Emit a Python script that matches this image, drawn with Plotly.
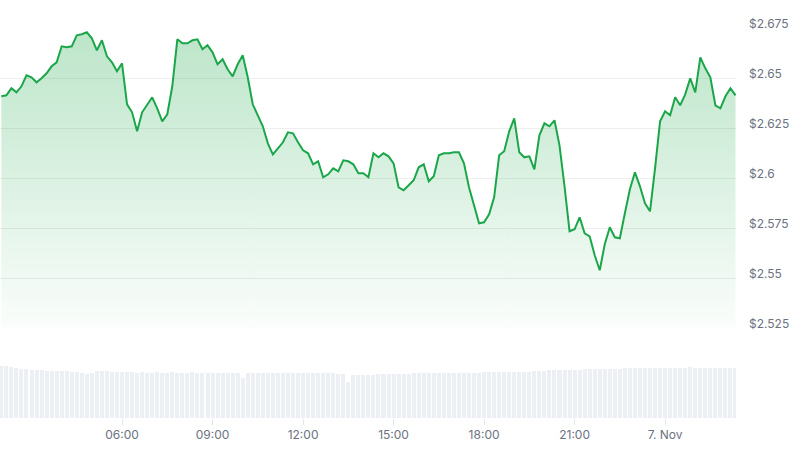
import pandas as pd
import plotly.graph_objects as go

start_time = "2024-11-06 02:00"
step = "10min"

prices = [
    2.641, 2.6415, 2.645, 2.643, 2.646, 2.6515, 2.6505, 2.648, 2.650, 2.6525,
    2.656, 2.658, 2.666, 2.6655, 2.666, 2.6715, 2.672, 2.673, 2.670, 2.664,
    2.669, 2.661, 2.658, 2.6535, 2.6575, 2.637, 2.633, 2.6235, 2.633, 2.6365,
    2.6405, 2.635, 2.6285, 2.632, 2.646, 2.6695, 2.6675, 2.6675, 2.669, 2.6695,
    2.6645, 2.6665, 2.663, 2.657, 2.6595, 2.6545, 2.651, 2.657, 2.6615, 2.6505,
    2.637, 2.6315, 2.626, 2.6175, 2.612, 2.615, 2.618, 2.623, 2.6225, 2.618,
    2.614, 2.6125, 2.607, 2.6085, 2.6005, 2.602, 2.605, 2.6035, 2.609, 2.6085,
    2.607, 2.6025, 2.6025, 2.6005, 2.6125, 2.6105, 2.6125, 2.611, 2.6075, 2.5955,
    2.594, 2.5965, 2.599, 2.6055, 2.607, 2.5985, 2.601, 2.6115, 2.6125, 2.6125,
    2.613, 2.613, 2.6075, 2.5955, 2.586, 2.5775, 2.578, 2.582, 2.5905, 2.6115,
    2.6135, 2.6235, 2.630, 2.613, 2.6105, 2.611, 2.6045, 2.6215, 2.6275, 2.626,
    2.629, 2.6165, 2.596, 2.5735, 2.5745, 2.5805, 2.5725, 2.571, 2.5615, 2.554,
    2.567, 2.5755, 2.5705, 2.570, 2.5825, 2.5945, 2.603, 2.596, 2.5875, 2.5835,
    2.605, 2.6285, 2.6335, 2.6315, 2.6405, 2.6365, 2.642, 2.650, 2.643, 2.6605,
    2.655, 2.6505, 2.6365, 2.635, 2.641, 2.645, 2.6415,
]

volumes = [
    52, 52, 51, 50, 49, 49, 48, 48, 48, 47,
    47, 47, 47, 47, 46, 46, 45, 44, 45, 47,
    47, 47, 46, 46, 46, 46, 46, 45, 46, 45,
    45, 46, 45, 45, 46, 45, 45, 45, 46, 45,
    45, 45, 45, 45, 45, 45, 45, 45, 40, 45,
    45, 45, 45, 45, 45, 45, 45, 45, 45, 45,
    45, 45, 45, 45, 45, 45, 45, 44, 44, 36,
    43, 43, 43, 43, 43, 44, 44, 44, 44, 44,
    44, 44, 45, 45, 45, 45, 45, 45, 45, 45,
    45, 45, 45, 45, 45, 45, 46, 46, 46, 46,
    46, 46, 46, 46, 46, 46, 47, 47, 47, 48,
    48, 48, 48, 48, 48, 48, 49, 49, 49, 49,
    49, 49, 49, 49, 50, 50, 50, 50, 50, 50,
    50, 50, 50, 50, 50, 50, 50, 51, 50, 50,
    50, 50, 50, 50, 50, 50, 50,
]

price_ticks = [2.525, 2.55, 2.575, 2.6, 2.625, 2.65, 2.675]
price_tick_labels = ["$2.525", "$2.55", "$2.575", "$2.6", "$2.625", "$2.65", "$2.675"]

time_ticks = ["2024-11-06 06:00", "2024-11-06 09:00", "2024-11-06 12:00",
              "2024-11-06 15:00", "2024-11-06 18:00", "2024-11-06 21:00",
              "2024-11-07 00:00"]
time_tick_labels = ["06:00", "09:00", "12:00", "15:00", "18:00", "21:00", "7. Nov"]

x_range = ["2024-11-06 01:57:20", "2024-11-07 02:21:00"]

times = pd.date_range(start_time, periods=len(prices), freq=step)

LINE = "#1ba64a"
FONT = "Inter, Roboto, sans-serif"
LABEL = "#6b7280"

fig = go.Figure()

fig.add_trace(go.Bar(
    x=times, y=volumes, yaxis="y2", xaxis="x",
    marker=dict(color="#eceff3", line=dict(width=0)),
    width=8 * 60 * 1000,
    hoverinfo="skip", showlegend=False,
))

fig.add_trace(go.Scatter(
    x=times, y=prices, mode="lines", yaxis="y", xaxis="x",
    line=dict(color=LINE, width=2),
    fill="tozeroy",
    fillgradient=dict(
        type="vertical",
        start=2.525, stop=2.675,
        colorscale=[[0, "rgba(30,168,74,0.02)"], [1, "rgba(30,168,74,0.30)"]],
    ),
    showlegend=False,
))

H = 418.0
fig.update_layout(
    width=800, height=450,
    margin=dict(l=0, r=64, t=0, b=32),
    paper_bgcolor="white", plot_bgcolor="white",
    font=dict(family=FONT, size=12, color=LABEL),
    bargap=0,
    xaxis=dict(
        type="date", range=x_range, anchor="y2", automargin=False,
        tickvals=time_ticks, ticktext=time_tick_labels,
        showgrid=False, zeroline=False, showline=False,
        ticks="outside", ticklen=6, tickcolor="#e3e6ea", tickwidth=1,
        tickfont=dict(family=FONT, size=12, color=LABEL),
    ),
    yaxis=dict(
        domain=[(H - 328.3) / H, (H - 28.3) / H], automargin=False,
        range=[2.525, 2.675], side="right", anchor="x",
        tickvals=price_ticks, ticktext=price_tick_labels,
        showgrid=True, gridcolor="#eeeeee", gridwidth=1,
        zeroline=False, showline=False, ticks="",
        ticklabelstandoff=12, ticklabelshift=-5,
        tickfont=dict(family=FONT, size=12, color=LABEL),
    ),
    yaxis2=dict(
        domain=[0, (H - 366) / H], range=[0, 52], anchor="x", automargin=False,
        showgrid=False, zeroline=False, showline=False, showticklabels=False,
    ),
)

fig.write_html(
    "out.html",
    config={"displayModeBar": False},
    post_script="document.body.style.margin='0px';",
)
